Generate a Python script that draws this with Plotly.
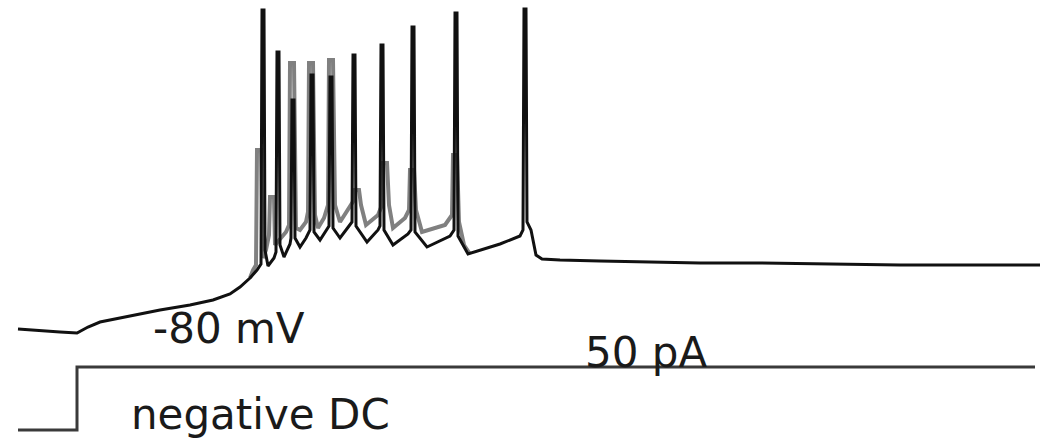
import plotly.graph_objects as go

# Membrane potential trace (black), time in ms, voltage in mV
time_ms = [18, 30, 60, 77, 88, 100, 130, 160, 190, 213, 230, 240, 250, 257, 261,
           262, 264, 265, 268, 274, 276,
           277, 279, 280, 284, 290, 291,
           292, 294, 295, 300, 306, 310,
           311, 313, 314, 320, 327, 329,
           330, 332, 333, 340, 349, 352,
           353, 355, 356, 367, 378, 380,
           381, 383, 384, 393, 408, 411,
           412, 414, 415, 427, 450, 454,
           455, 457, 458, 468, 500, 520, 523,
           524, 526, 527, 531, 536, 542,
           560, 600, 640, 700, 760, 840, 900, 980, 1040]
vm_mv = [-79.7, -80.0, -80.6, -80.9, -79.1, -77.6, -75.8, -74.0, -72.5, -71.0, -69.2, -67.1, -64.4, -62.0, -60.2,
         16.0, 16.0, -56.0, -60.8, -58.4, -56.6,
         3.4, 3.4, -54.5, -58.1, -54.2, -52.4,
         -11.0, -11.0, -52.4, -55.1, -52.4, -50.0,
         -3.5, -3.5, -50.6, -53.0, -50.0, -48.8,
         -4.1, -4.1, -49.4, -52.4, -48.8, -47.6,
         2.5, 2.5, -48.8, -53.6, -50.0, -48.8,
         5.5, 5.5, -50.0, -54.5, -51.2, -50.0,
         10.9, 10.9, -50.6, -55.1, -51.8, -50.0,
         15.1, 15.1, -51.8, -57.2, -54.2, -51.8, -50.0,
         16.3, 16.3, -47.6, -50.0, -57.5, -58.7,
         -59.0, -59.3, -59.6, -59.9, -59.9, -60.2, -60.5, -60.5, -60.5]

# Overlaid second sweep (gray)
time_gray = [250, 253, 256, 257, 261, 263, 266, 269, 270, 274, 275, 279, 286, 289, 290, 294, 296,
             300, 306, 308, 309, 313, 315, 318, 324, 328, 329, 333, 335, 340, 348, 354, 355, 359,
             361, 366, 378, 382, 383, 387, 389, 393, 405, 409, 410, 414, 416, 422, 445, 452, 453,
             457, 459, 464, 470]
vm_gray = [-64.4, -62.0, -60.5, -26.0, -26.0, -58.4, -56.0, -51.5, -40.1, -40.1, -54.5, -53.0,
           -50.6, -48.5, 0.1, 0.1, -49.4,
           -50.0, -47.6, -44.6, 0.1, 0.1, -45.5, -49.4, -46.4, -42.5, 1.0, 1.0, -42.5, -47.6,
           -44.0, -41.0, -38.0, -38.0,
           -42.5, -48.5, -45.5, -42.5, -29.9, -29.9, -42.5, -49.4, -46.4, -44.0, -32.0, -32.0,
           -44.0, -50.6, -48.5, -45.5, -27.5,
           -27.5, -47.6, -54.5, -57.2]

# Injected current command
time_cmd = [18, 77, 77, 1035]
current_pa = [-20, -20, 50, 50]

labels = ["-80 mV", "50 pA", "negative DC"]

fig = go.Figure()
fig.add_trace(go.Scatter(x=time_gray, y=vm_gray, mode="lines",
                         line=dict(color="#808080", width=4), yaxis="y", showlegend=False))
fig.add_trace(go.Scatter(x=time_ms, y=vm_mv, mode="lines",
                         line=dict(color="#111111", width=3), yaxis="y", showlegend=False))
fig.add_trace(go.Scatter(x=time_cmd, y=current_pa, mode="lines",
                         line=dict(color="#3a3a3a", width=3), yaxis="y2", showlegend=False))

font = dict(family="DejaVu Sans", size=42, color="#1a1a1a")
fig.add_annotation(x=229, y=-79.4, xref="x", yref="y", text=labels[0], showarrow=False,
                   xanchor="center", yanchor="middle", font=font)
fig.add_annotation(x=646, y=66.7, xref="x", yref="y2", text=labels[1], showarrow=False,
                   xanchor="center", yanchor="middle", font=font)
fig.add_annotation(x=260, y=-2.2, xref="x", yref="y2", text=labels[2], showarrow=False,
                   xanchor="center", yanchor="middle", font=font)

fig.update_layout(
    width=1040, height=442,
    margin=dict(l=0, r=0, t=0, b=0),
    paper_bgcolor="white", plot_bgcolor="white",
    xaxis=dict(range=[0, 1040], visible=False, showgrid=False, zeroline=False),
    yaxis=dict(range=[-113.6, 19.0], visible=False, showgrid=False, zeroline=False),
    yaxis2=dict(range=[-33.3, 457.8], visible=False, overlaying="y", showgrid=False, zeroline=False),
)
fig.write_html("out.html")
